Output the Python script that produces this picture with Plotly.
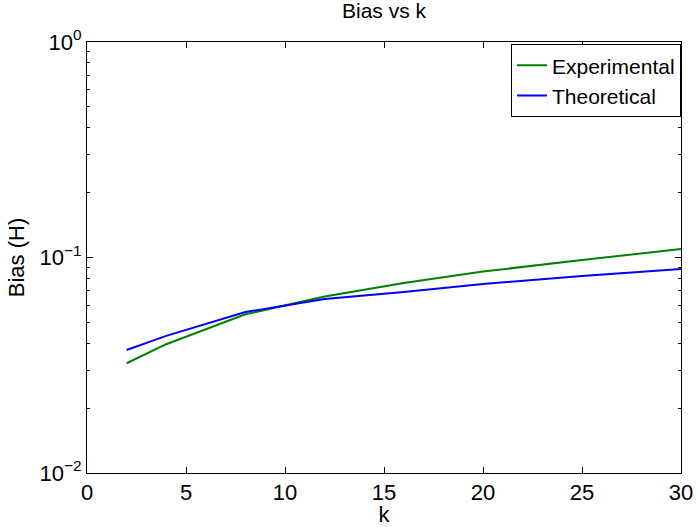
import plotly.graph_objects as go

k_exp = [2, 4, 8, 12, 16, 20, 25, 30]
bias_exp = [0.0323, 0.0396, 0.0545, 0.0659, 0.0762, 0.0861, 0.0973, 0.1095]
k_theo = [2, 4, 8, 12, 16, 20, 25, 30]
bias_theo = [0.0372, 0.0433, 0.0558, 0.0642, 0.0692, 0.0753, 0.0821, 0.0885]

x_ticks = [0, 5, 10, 15, 20, 25, 30]
y_ticks = [0.01, 0.1, 1]
y_ticktext = ["10<sup>\u22122</sup>", "10<sup>\u22121</sup>", "10<sup>0</sup>"]

FONT = "Liberation Sans, Arial, Helvetica, sans-serif"

fig = go.Figure()
fig.add_trace(go.Scatter(x=k_exp, y=bias_exp, mode="lines", name="Experimental",
                         line=dict(color="#008000", width=2)))
fig.add_trace(go.Scatter(x=k_theo, y=bias_theo, mode="lines", name="Theoretical",
                         line=dict(color="#0000ff", width=2)))

fig.update_layout(
    width=696, height=527,
    margin=dict(l=87, r=15, t=42, b=54, autoexpand=False),
    paper_bgcolor="white", plot_bgcolor="white",
    font=dict(family=FONT, size=22, color="black"),
    title=dict(text="Bias vs k", x=0.5, xref="paper", xanchor="center",
               y=0.993, yanchor="top", font=dict(size=21)),
    legend=dict(x=1, xanchor="right", y=0.995, yanchor="top",
                bordercolor="black", borderwidth=1, bgcolor="white",
                font=dict(size=21), tracegroupgap=0, itemwidth=30),
    showlegend=True,
)
fig.update_xaxes(
    range=[0, 30], tickvals=x_ticks, ticks="inside", ticklen=6,
    tickcolor="black", showline=True, linecolor="black", linewidth=1,
    mirror="ticks", showgrid=False, zeroline=False, automargin=False,
    title=dict(text="k", standoff=0, font=dict(size=22)),
    tickfont=dict(size=22),
)
fig.update_yaxes(
    type="log", range=[-2, 0], tickvals=y_ticks, ticktext=y_ticktext,
    ticks="inside", ticklen=6, tickcolor="black",
    showline=True, linecolor="black", linewidth=1, mirror="ticks",
    showgrid=False, zeroline=False, automargin=False,
    minor=dict(ticks="inside", ticklen=3, tickcolor="black", dtick="D1", showgrid=False),
    title=dict(text="Bias (H)", standoff=8, font=dict(size=22)),
    tickfont=dict(size=22),
)

fig.write_html("out.html")
